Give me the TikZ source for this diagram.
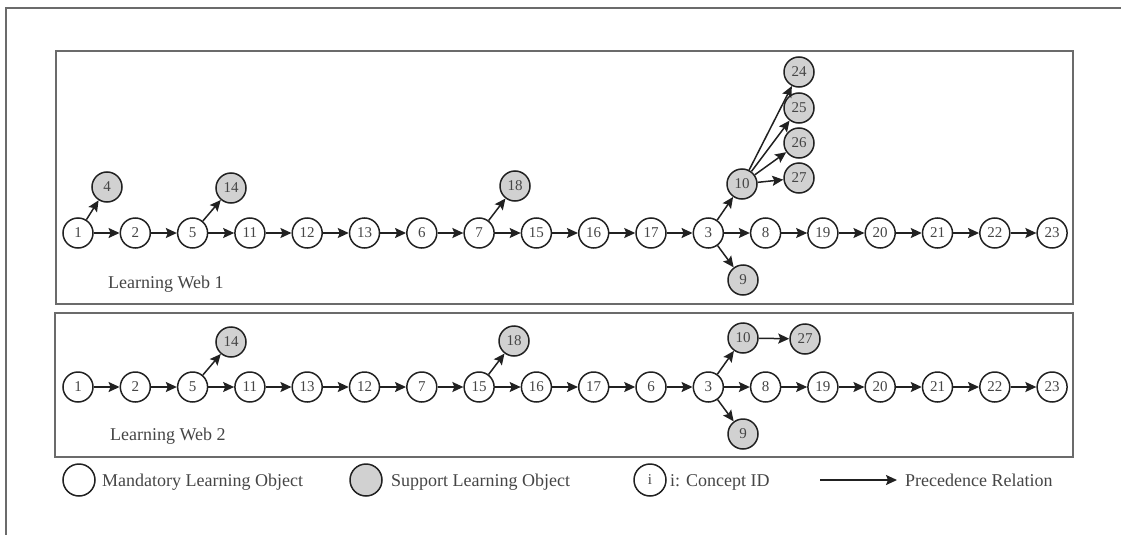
\documentclass[tikz,border=0pt]{standalone}
\usepackage{fontspec}
\setmainfont{Liberation Serif}
\usetikzlibrary{arrows.meta}
\definecolor{FrameClr}{rgb}{0.42,0.42,0.42}
\definecolor{NodeClr}{rgb}{0.82,0.82,0.82}
\definecolor{LineClr}{rgb}{0.13,0.13,0.13}
\definecolor{TextClr}{rgb}{0.27,0.27,0.27}

\begin{document}
\begin{tikzpicture}[x=1pt,y=-1pt,
  mlo/.style={circle,draw=LineClr,line width=1.5pt,fill=white,minimum size=30pt,inner sep=0pt,
    text=TextClr,font=\fontsize{15}{17}\selectfont},
  slo/.style={mlo,fill=NodeClr},
  prec/.style={draw=LineClr,line width=1.5pt,-{Stealth[length=11pt,width=10pt,inset=2pt]}},
  frame/.style={draw=FrameClr,line width=1.8pt},
  lbl/.style={inner sep=0pt,text=TextClr,font=\fontsize{18}{20}\selectfont}]
\useasboundingbox (0,0) rectangle (1121,535);

\draw[frame,line width=1.3pt] (1121,8) -- (6,8) -- (6,535);
\draw[frame] (56,51) rectangle (1073,304);
\draw[frame] (55,313) rectangle (1073,457);

% Learning Web 1
\foreach \id [count=\i from 0] in {1,2,5,11,12,13,6,7,15,16,17,3,8,19,20,21,22,23}
  \node[mlo] (A\id) at ({78+57.3*\i},233) {\id};
\node[slo] (A4) at (107,187) {4};
\node[slo] (A14) at (231,188) {14};
\node[slo] (A18) at (515,186) {18};
\node[slo] (A10) at (742,184) {10};
\node[slo] (A9) at (743,280) {9};
\node[slo] (A24) at (799,72) {24};
\node[slo] (A25) at (799,108) {25};
\node[slo] (A26) at (799,143) {26};
\node[slo] (A27) at (799,178) {27};
\foreach \a/\b in {1/2,2/5,5/11,11/12,12/13,13/6,6/7,7/15,15/16,16/17,17/3,3/8,8/19,19/20,20/21,21/22,22/23,
    1/4,5/14,7/18,3/10,3/9,10/24,10/25,10/26,10/27}
  \draw[prec] (A\a) -- (A\b);
\node[lbl,anchor=base west] (web1) at (108,288) {Learning Web 1};

% Learning Web 2
\foreach \id [count=\i from 0] in {1,2,5,11,13,12,7,15,16,17,6,3,8,19,20,21,22,23}
  \node[mlo] (B\id) at ({78+57.3*\i},387) {\id};
\node[slo] (B14) at (231,342) {14};
\node[slo] (B18) at (514,341) {18};
\node[slo] (B10) at (743,338) {10};
\node[slo] (B27) at (805,339) {27};
\node[slo] (B9) at (743,434) {9};
\foreach \a/\b in {1/2,2/5,5/11,11/13,13/12,12/7,7/15,15/16,16/17,17/6,6/3,3/8,8/19,19/20,20/21,21/22,22/23,
    5/14,15/18,3/10,3/9,10/27}
  \draw[prec] (B\a) -- (B\b);
\node[lbl,anchor=base west] (web2) at (110,440) {Learning Web 2};

% legend
\node[mlo,minimum size=32pt] (keyM) at (79,480) {};
\node[lbl,anchor=base west] (keyMt) at (102,486) {Mandatory Learning Object};
\node[slo,minimum size=32pt] (keyS) at (366,480) {};
\node[lbl,anchor=base west] (keySt) at (391,486) {Support Learning Object};
\node[mlo,minimum size=32pt] (keyI) at (650,480) {i};
\node[lbl,anchor=base west] (keyIt) at (670,486) {i: Concept ID};
\coordinate (keyA) at (820,480);
\coordinate (keyB) at (897,480);
\draw[prec] (keyA) -- (keyB);
\node[lbl,anchor=base west] (keyAt) at (905,486) {Precedence Relation};

\end{tikzpicture}
\end{document}
